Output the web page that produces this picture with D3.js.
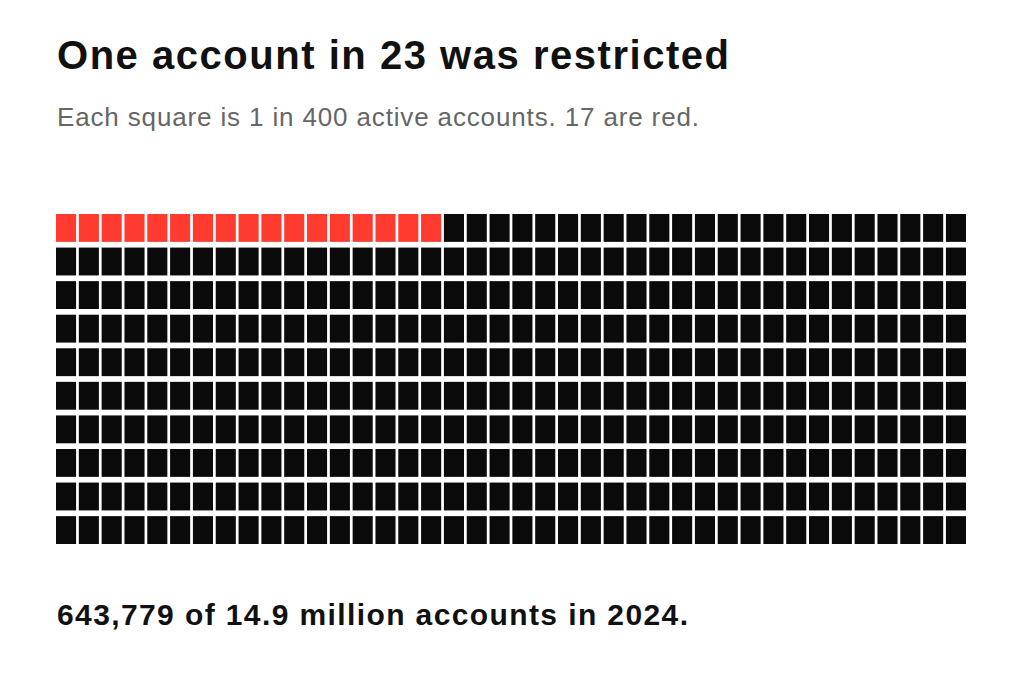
<!DOCTYPE html>
<html><head><meta charset="utf-8">
<script src="https://cdn.jsdelivr.net/npm/d3@7"></script>
<style>body{margin:0;background:#fff;font-family:"Liberation Sans",Arial,sans-serif}</style>
</head><body><div id="chart"></div>
<script>
// waffle data
var totalSquares = 400;
var redSquares = 17;
var nCols = 40;
var nRows = 10;
var title = "One account in 23 was restricted";
var subtitle = "Each square is 1 in 400 active accounts. 17 are red.";
var footer = "643,779 of 14.9 million accounts in 2024.";

var svg = d3.select("#chart").append("svg").attr("width", 1024).attr("height", 682);

svg.append("text").attr("x", 57).attr("y", 69).attr("font-size", 40).attr("font-weight", "bold")
  .attr("textLength", 672).attr("lengthAdjust", "spacing")
  .attr("fill", "#111").text(title);
svg.append("text").attr("x", 57).attr("y", 126).attr("font-size", 26)
  .attr("textLength", 642).attr("lengthAdjust", "spacing")
  .attr("fill", "#666").text(subtitle);
svg.append("text").attr("x", 57).attr("y", 625).attr("font-size", 30).attr("font-weight", "bold")
  .attr("textLength", 631).attr("lengthAdjust", "spacing")
  .attr("fill", "#111").text(footer);

var cells = d3.range(totalSquares);
var x = d3.scaleBand().domain(d3.range(nCols)).range([56, 966]).paddingInner(0.12);
var y = d3.scaleBand().domain(d3.range(nRows)).range([214, 544]).paddingInner(0.17);

svg.append("g").selectAll("rect").data(cells).enter().append("rect")
  .attr("x", d => x(d % nCols))
  .attr("y", d => y(Math.floor(d / nCols)))
  .attr("width", x.bandwidth())
  .attr("height", y.bandwidth())
  .attr("fill", d => d < redSquares ? "#ff3b30" : "#0a0a0a");
</script></body></html>
